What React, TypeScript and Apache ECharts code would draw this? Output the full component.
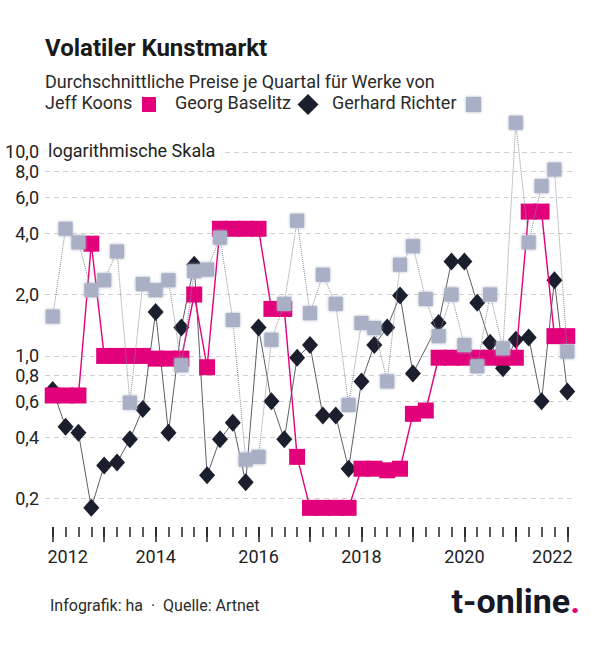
import React, { useEffect, useRef } from "react";
import * as echarts from "echarts";

// Quarterly positions: 2012 Q1 ... 2022 Q1
const START_YEAR = 2012;
const QUARTER_COUNT = 41;
const QUARTER_X: number[] = Array.from({ length: QUARTER_COUNT }, (_, i) => START_YEAR + i / 4);
const YEAR_TICKS = [2012, 2013, 2014, 2015, 2016, 2017, 2018, 2019, 2020, 2021, 2022];
const YEAR_LABELS = [2012, 2014, 2016, 2018, 2020, 2022];
const Y_TICKS = [0.2, 0.4, 0.6, 0.8, 1, 2, 4, 6, 8, 10];

// Average prices per quarter (million)
const koons = [
  0.64, 0.64, 0.64, 3.55, 1.0, 1.0, 1.0, 1.0, 0.97, 0.97, 0.97, 2.0, 0.88, 4.2, 4.2, 4.2, 4.2, 1.7, 1.7, 0.32,
  0.18, 0.18, 0.18, 0.18, 0.28, 0.28, 0.275, 0.28, 0.52, 0.54, 0.98, 0.98, 0.98, 0.98, 0.98, 0.98, 0.98, 5.1, 5.1,
  1.25, 1.25,
];
const baselitz: (number | null)[] = [
  0.68, 0.45, 0.42, 0.18, 0.29, 0.3, 0.39, 0.55, 1.64, 0.42, 1.38, 2.8, 0.26, 0.39, 0.47, 0.24, 1.38, 0.6, 0.39, 0.98,
  1.13, 0.51, 0.51, 0.28, 0.75, 1.13, 1.38, 1.98, 0.82, null, 1.45, 2.9, 2.9, 1.82, 1.16, 0.87, 1.2, 1.23, 0.6, 2.35,
  0.67,
];
const richter = [
  1.56, 4.2, 3.6, 2.1, 2.35, 3.25, 0.59, 2.25, 2.1, 2.35, 0.9, 2.6, 2.65, 3.8, 1.5, 0.31, 0.32, 1.2, 1.8, 4.6, 1.62,
  2.5, 1.8, 0.575, 1.45, 1.37, 0.75, 2.8, 3.45, 1.9, 1.25, 2.0, 1.13, 0.89, 2.0, 1.09, 13.9, 3.6, 6.8, 8.2, 1.05,
];

const PINK = "#e3007b";
const NAVY = "#1b1f2d";
const GREY = "#a9b0c5";
const FONT = "Roboto";

function pairs(vals: (number | null)[]) {
  const out: [number, number][] = [];
  vals.forEach((v, i) => {
    if (v !== null) out.push([QUARTER_X[i], v]);
  });
  return out;
}

export default function App() {
  const ref = useRef<HTMLDivElement>(null);
  useEffect(() => {
    if (!ref.current) return;
    const chart = echarts.init(ref.current, undefined, { renderer: "svg" });
    const fmtY = (v: number) => Number(v).toFixed(1).replace(".", ",");
    const firstYear = YEAR_LABELS[0];
    const lastYear = YEAR_LABELS[YEAR_LABELS.length - 1];
    const fmtX = (v: number) => {
      const y = Math.round(v);
      if (y === firstYear) return `{first|${y}}`;
      if (y === lastYear) return `{last|${y}}`;
      return `{mid|${y}}`;
    };
    const labelText = { fontSize: 18, fontFamily: FONT, color: "#222" };
    chart.setOption({
      animation: false,
      backgroundColor: "#ffffff",
      textStyle: { fontFamily: FONT },
      grid: { left: 45, right: 25, top: 116, bottom: 126, containLabel: false },
      xAxis: [
        {
          type: "value",
          min: 2011.85,
          max: 2022.15,
          offset: 3,
          axisLine: { show: false },
          splitLine: { show: false },
          axisTick: {
            show: true,
            customValues: QUARTER_X,
            length: 10,
            lineStyle: { color: "#222", width: 1.5 },
          },
          axisLabel: {
            customValues: YEAR_LABELS,
            formatter: fmtX,
            ...labelText,
            margin: 20,
            rich: {
              first: { ...labelText, padding: [0, 0, 0, 30] },
              last: { ...labelText, padding: [0, 30, 0, 0] },
              mid: { ...labelText },
            },
          },
        },
        {
          type: "value",
          min: 2011.85,
          max: 2022.15,
          position: "bottom",
          offset: 3,
          axisLine: { show: false },
          splitLine: { show: false },
          axisTick: {
            show: true,
            customValues: YEAR_TICKS,
            length: 15,
            lineStyle: { color: "#222", width: 1.5 },
          },
          axisLabel: { show: false },
        },
      ],
      yAxis: {
        type: "log",
        logBase: 10,
        min: 0.15,
        max: 15,
        axisLine: { show: false },
        axisTick: { show: false, customValues: Y_TICKS },
        splitLine: { show: true, lineStyle: { type: [5, 4], color: "#d0d0d0", width: 1 } },
        axisLabel: {
          customValues: Y_TICKS,
          formatter: fmtY,
          ...labelText,
          margin: 6,
        },
      },
      series: [
        {
          name: "Georg Baselitz",
          type: "line",
          xAxisIndex: 0,
          data: pairs(baselitz),
          symbol: "diamond",
          symbolSize: [16, 18],
          itemStyle: { color: NAVY },
          lineStyle: { color: "#33363f", width: 0.8 },
          z: 2,
        },
        {
          name: "Jeff Koons",
          type: "line",
          xAxisIndex: 0,
          data: pairs(koons),
          symbol: "rect",
          symbolSize: [16, 16],
          itemStyle: { color: PINK },
          lineStyle: { color: PINK, width: 1.4 },
          z: 3,
        },
        {
          name: "Gerhard Richter",
          type: "line",
          xAxisIndex: 0,
          data: pairs(richter),
          symbol: "rect",
          symbolSize: [14, 14],
          itemStyle: { color: GREY, shadowBlur: 3, shadowColor: GREY },
          lineStyle: { color: "#8a8e99", width: 1, type: "dotted" },
          z: 4,
        },
      ],
      graphic: [
        {
          type: "text",
          left: 45,
          top: 36,
          style: { text: "Volatiler Kunstmarkt", font: `bold 24px ${FONT}`, fill: "#1a1a1a" },
        },
        {
          type: "text",
          left: 45,
          top: 72,
          style: { text: "Durchschnittliche Preise je Quartal für Werke von", font: `18px ${FONT}`, fill: "#2a2a2a" },
        },
        {
          type: "text",
          left: 45,
          top: 93,
          style: { text: "Jeff Koons", font: `18px ${FONT}`, fill: "#2a2a2a" },
        },
        { type: "rect", shape: { x: 142, y: 97, width: 14, height: 15 }, style: { fill: PINK } },
        {
          type: "text",
          left: 175,
          top: 93,
          style: { text: "Georg Baselitz", font: `18px ${FONT}`, fill: "#2a2a2a" },
        },
        {
          type: "polygon",
          shape: { points: [[308, 94], [318.5, 104.5], [308, 115], [297.5, 104.5]] },
          style: { fill: NAVY },
        },
        {
          type: "text",
          left: 332,
          top: 93,
          style: { text: "Gerhard Richter", font: `18px ${FONT}`, fill: "#2a2a2a" },
        },
        {
          type: "rect",
          shape: { x: 466, y: 97, width: 15, height: 15 },
          style: { fill: GREY, shadowBlur: 3, shadowColor: GREY },
        },
        {
          type: "text",
          left: 45,
          top: 141,
          z: 100,
          style: {
            text: "logarithmische Skala",
            font: `18px ${FONT}`,
            fill: "#222",
            backgroundColor: "#ffffff",
            padding: [0, 8, 0, 3],
          },
        },
        {
          type: "text",
          left: 50,
          top: 597,
          style: { text: "Infografik: ha  ·  Quelle: Artnet", font: `16px ${FONT}`, fill: "#2a2a2a" },
        },
        {
          type: "text",
          right: 20,
          top: 584,
          style: {
            text: "{a|t-online}{b|.}",
            rich: {
              a: { font: `bold 34px ${FONT}`, fill: "#161826" },
              b: { font: `bold 34px ${FONT}`, fill: PINK },
            },
          },
        },
      ],
    });
    return () => chart.dispose();
  }, []);
  return <div ref={ref} style={{ position: "absolute", left: 0, top: 0, width: 600, height: 650 }} />;
}
